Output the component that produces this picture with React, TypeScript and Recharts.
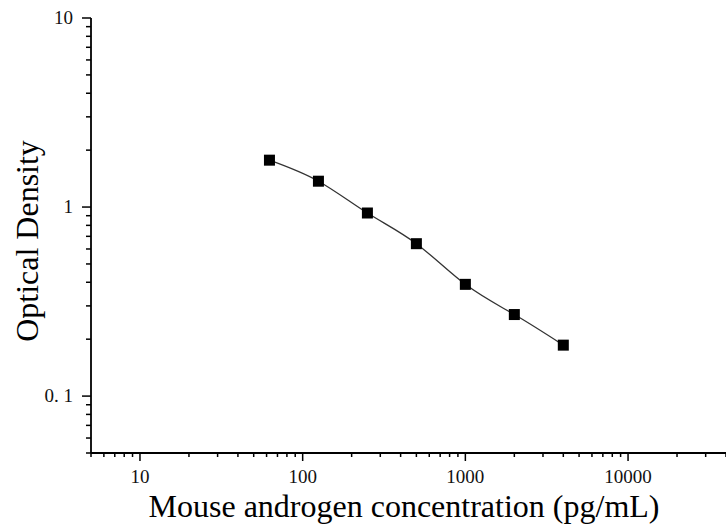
import { LineChart, Line, XAxis, YAxis, Label } from "recharts";

// standard concentrations (pg/mL) and measured OD
const concentrations = [62.5, 125, 250, 500, 1000, 2000, 4000];
const opticalDensity = [1.77, 1.37, 0.93, 0.64, 0.39, 0.27, 0.186];

const xTicks = [
  5, 6, 7, 8, 9, 10, 20, 30, 40, 50, 60, 70, 80, 90, 100, 200, 300, 400, 500, 600,
  700, 800, 900, 1000, 2000, 3000, 4000, 5000, 6000, 7000, 8000, 9000, 10000,
  20000, 30000, 40000
];
const yTicks = [
  0.05, 0.06, 0.07, 0.08, 0.09, 0.1, 0.2, 0.3, 0.4, 0.5, 0.6, 0.7, 0.8, 0.9, 1, 2,
  3, 4, 5, 6, 7, 8, 9, 10
];
const xMajorLabels: Record<number, string> = { 10: "10", 100: "100", 1000: "1000", 10000: "10000" };
const yMajorLabels: Record<number, string> = { 0.1: "0. 1", 1: "1", 10: "10" };

const data = concentrations.map((c, i) => ({ conc: c, od: opticalDensity[i] }));

const FONT = "'Liberation Serif', 'Times New Roman', serif";

const isMajor = (v: number) => Math.abs(Math.log10(v) - Math.round(Math.log10(v))) < 1e-9;

const XTick = (props: any) => {
  const { x, y, payload } = props;
  const v = payload.value;
  const major = isMajor(v);
  return (
    <g>
      <line x1={x} x2={x} y1={y} y2={y + (major ? 8 : 4)} stroke="#000" strokeWidth={1.5} />
      {major && xMajorLabels[v] && (
        <text x={x} y={y + 30} textAnchor="middle" fontFamily={FONT} fontSize={19} fill="#111">
          {xMajorLabels[v]}
        </text>
      )}
    </g>
  );
};

const YTick = (props: any) => {
  const { x, y, payload } = props;
  const v = payload.value;
  const major = isMajor(v);
  return (
    <g>
      <line x1={x} x2={x - (major ? 9 : 5)} y1={y} y2={y} stroke="#000" strokeWidth={1.5} />
      {major && yMajorLabels[v] && (
        <text x={x - 18} y={y + 6} textAnchor="end" fontFamily={FONT} fontSize={19} fill="#111">
          {yMajorLabels[v]}
        </text>
      )}
    </g>
  );
};

const Square = (props: any) => {
  const { cx, cy, index } = props;
  if (cx == null || cy == null) return <g key={index} />;
  return <rect key={index} x={cx - 5.5} y={cy - 5.5} width={11} height={11} fill="#000" />;
};

export default function App() {
  return (
    <div style={{ position: "absolute", left: 0, top: 0, background: "#fff" }}>
      <LineChart width={726} height={525} data={data} margin={{ top: 18, right: 0, bottom: 0, left: 0 }}>
        <XAxis
          dataKey="conc"
          type="number"
          scale="log"
          domain={[5, 40000]}
          ticks={xTicks}
          interval={0}
          allowDataOverflow
          height={72}
          tickSize={0}
          tickMargin={0}
          tickLine={false}
          tick={<XTick />}
          axisLine={{ stroke: "#000", strokeWidth: 1.8 }}
        >
          <Label
            content={() => (
              <text x={404} y={517} textAnchor="middle" fontFamily={FONT} fontSize={32} fill="#000">
                Mouse androgen concentration (pg/mL)
              </text>
            )}
          />
        </XAxis>
        <YAxis
          dataKey="od"
          type="number"
          scale="log"
          domain={[0.05, 10]}
          ticks={yTicks}
          interval={0}
          allowDataOverflow
          width={91}
          tickSize={0}
          tickMargin={0}
          tickLine={false}
          tick={<YTick />}
          axisLine={{ stroke: "#000", strokeWidth: 1.8 }}
        >
          <Label
            content={() => (
              <text
                x={27}
                y={241}
                transform="rotate(-90 27 241)"
                textAnchor="middle"
                dominantBaseline="central"
                fontFamily={FONT}
                fontSize={32}
                fill="#000"
              >
                Optical Density
              </text>
            )}
          />
        </YAxis>
        <Line
          type="natural"
          dataKey="od"
          stroke="#333"
          strokeWidth={1.3}
          dot={<Square />}
          activeDot={false}
          isAnimationActive={false}
        />
      </LineChart>
    </div>
  );
}
